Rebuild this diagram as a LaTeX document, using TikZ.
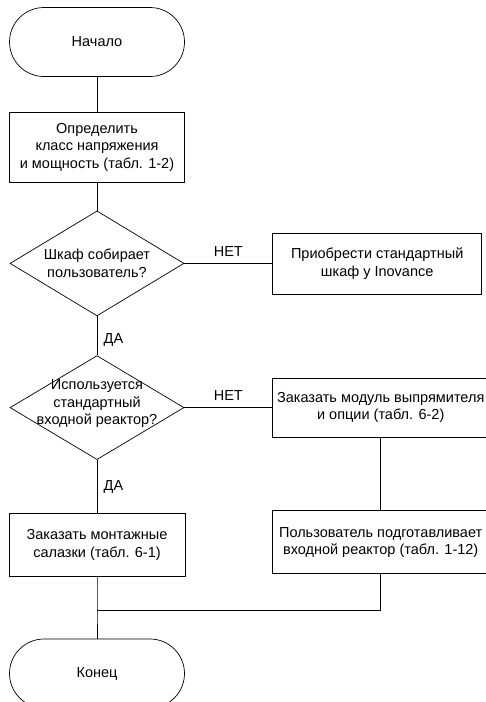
\documentclass[tikz,border=0pt]{standalone}
\usepackage{fontspec}
\setmainfont{Liberation Sans}
\usepackage{tikz}
\usetikzlibrary{positioning,
shapes.geometric,
calc}

\begin{document}
\begin{tikzpicture}[
x=1pt, y=1pt,
line width=0.7pt,
every node/.style={font=\fontsize{14.5}{17.5}\selectfont},
terminal/.style={
draw,
rounded corners=34.5pt,
minimum width=175pt,
minimum height=69pt
},
process/.style={
draw,
align=center,
inner sep=1pt,
minimum height=62pt
},
decision/.style={
draw,
diamond,
inner sep=0pt,
minimum width=174pt,
minimum height=105pt
},
dtext/.style={
align=center
}
]
\useasboundingbox (0,0) rectangle (485,-702);

% Left column
\node[terminal] (start) at (97,-42) {Начало};

\node[process, minimum width=175pt, minimum height=70pt, below=35pt of start] (classdef)
{Определить\\класс напряжения\\и мощность (табл. 1-2)};

\node[decision, below=28pt of classdef,
label={[dtext]center:Шкаф собирает\\пользователь?}] (cabinet) {};

\node[decision, minimum height=104pt, below=39pt of cabinet,
label={[dtext, yshift=4pt]center:Используется\\стандартный\\входной реактор?}] (reactor) {};

\node[process, minimum width=176pt, minimum height=63pt, below=53pt of reactor] (sleds)
{Заказать монтажные\\салазки (табл. 6-1)};

\node[terminal, below=62pt of sleds] (finish) {Конец};

% Right column
\node[process, minimum width=209pt, minimum height=61pt, right=88pt of cabinet] (buy)
{Приобрести стандартный\\шкаф у Inovance};

\node[process, minimum width=216pt, minimum height=59pt, right=88pt of reactor] (rectifier)
{Заказать модуль выпрямителя\\и опции (табл. 6-2)};

\node[process, minimum width=216pt, minimum height=63pt, below=73pt of rectifier] (prepare)
{Пользователь подготавливает\\входной реактор (табл. 1-12)};

\coordinate (join) at ($(sleds.south)!0.55!(finish.north)$);

% Connections
\draw (start) -- (classdef);
\draw (classdef) -- (cabinet);
\draw (cabinet.east) -- node[above=3pt] {НЕТ} (buy.west);
\draw (cabinet.south) -- node[right=3pt, pos=0.6] {ДА} (reactor.north);
\draw (reactor.east) -- node[above=3pt] {НЕТ} (rectifier.west);
\draw (reactor.south) -- node[right=3pt] {ДА} (sleds.north);
\draw (rectifier) -- (prepare);
\draw (sleds) -- (join) -- (finish);
\draw (prepare.south) |- (join);

\end{tikzpicture}
\end{document}
